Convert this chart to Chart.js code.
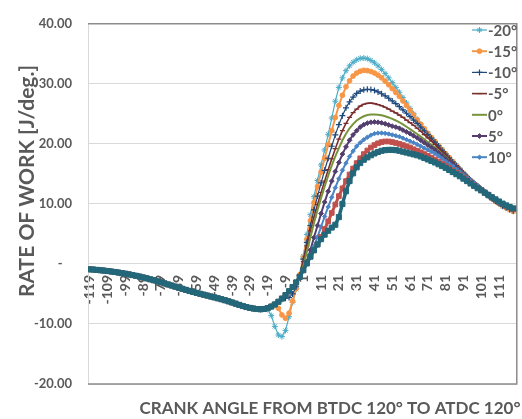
<!DOCTYPE html>
<html>
<head>
<meta charset="utf-8">
<script src="https://cdn.jsdelivr.net/npm/chart.js@4.4.1/dist/chart.umd.min.js"></script>
<style>
  html, body { margin: 0; padding: 0; background: #ffffff; }
  canvas { display: block; }
</style>
</head>
<body>
<canvas id="chart" width="522" height="419" style="width:522px;height:419px"></canvas>
<script>
// Crank angle samples (deg), every 2 degrees
const crankAngle = [
  -119,-117,-115,-113,-111,-109,-107,-105,-103,-101,
  -99,-97,-95,-93,-91,-89,-87,-85,-83,-81,
  -79,-77,-75,-73,-71,-69,-67,-65,-63,-61,
  -59,-57,-55,-53,-51,-49,-47,-45,-43,-41,
  -39,-37,-35,-33,-31,-29,-27,-25,-23,-21,
  -19,-17,-15,-13,-11,-9,-7,-5,-3,-1,
  1,3,5,7,9,11,13,15,17,19,
  21,23,25,27,29,31,33,35,37,39,
  41,43,45,47,49,51,53,55,57,59,
  61,63,65,67,69,71,73,75,77,79,
  81,83,85,87,89,91,93,95,97,99,
  101,103,105,107,109,111,113,115,117,119
];

const xTickLabels = [-119,-109,-99,-89,-79,-69,-59,-49,-39,-29,-19,-9,1,11,21,31,41,51,61,71,81,91,101,111];

// Rate of work before combustion (shared by all timings), -119 .. 19 deg
const motoredWork = [
  -0.90,-0.94,-0.99,-1.05,-1.11,-1.18,-1.26,-1.34,-1.43,-1.53,
  -1.63,-1.74,-1.86,-1.98,-2.11,-2.25,-2.40,-2.56,-2.72,-2.89,
  -3.06,-3.24,-3.42,-3.60,-3.78,-3.96,-4.14,-4.32,-4.49,-4.66,
  -4.82,-4.97,-5.12,-5.27,-5.42,-5.57,-5.72,-5.88,-6.05,-6.23,
  -6.42,-6.62,-6.82,-7.01,-7.18,-7.32,-7.43,-7.51,-7.55,-7.50,
  -7.35,-7.10,-6.75,-6.30,-5.77,-5.18,-4.54,-3.85,-3.08,-2.15,
  -1.05,0.10,1.22,2.28,3.25,4.12,4.88,5.52,6.06,6.52
];

const seriesNames = ['-20°','-15°','-10°','-5°','0°','5°','10°','15°','20°'];
// angle from which each timing leaves the shared curve
const seriesFrom = [-19, -15, -11, -5, -1, 3, 5, 11, 21];

const workM20 = [
  -7.60,-8.60,-10.40,-11.85,-12.10,-11.10,-8.80,-6.40,-4.20,-1.90,
  1.30,4.90,8.20,11.20,13.90,16.50,19.00,21.60,24.30,27.10,
  29.40,31.00,32.20,33.00,33.60,34.00,34.25,34.30,34.20,33.90,
  33.50,33.00,32.40,31.70,31.00,30.20,29.40,28.60,27.70,26.80,
  25.90,25.00,24.10,23.30,22.50,21.70,21.00,20.30,19.60,18.95,
  18.30,17.65,17.00,16.35,15.70,15.10,14.45,13.85,13.30,12.80,
  12.30,11.80,11.30,10.85,10.40,10.00,9.60,9.30,9.00,8.75
];
const workM15 = [
  -6.80,-7.40,-8.50,-9.05,-8.20,-6.20,-4.10,-1.80,
  1.00,4.10,7.20,10.20,12.90,15.30,17.60,19.90,22.20,24.40,
  26.40,28.10,29.50,30.50,31.30,31.80,32.10,32.25,32.20,32.05,
  31.80,31.45,31.00,30.45,29.85,29.20,28.55,27.90,27.15,26.40,
  25.60,24.80,24.00,23.25,22.50,21.75,21.05,20.40,19.70,19.05,
  18.35,17.70,17.05,16.40,15.75,15.10,14.50,13.90,13.35,12.85,
  12.35,11.85,11.35,10.90,10.45,10.05,9.65,9.35,9.05,8.80
];
const workM10 = [
  -5.90,-5.70,-5.60,-5.00,-3.80,-1.90,
  0.80,3.60,6.40,9.00,11.30,13.50,15.60,17.60,19.60,21.50,
  23.20,24.70,26.00,27.00,27.80,28.40,28.80,29.00,29.10,29.05,
  28.90,28.65,28.35,28.00,27.60,27.15,26.70,26.20,25.65,25.10,
  24.55,23.95,23.40,22.80,22.15,21.55,20.95,20.30,19.65,18.95,
  18.30,17.65,17.00,16.40,15.80,15.15,14.55,13.95,13.40,12.90,
  12.40,11.90,11.40,10.95,10.50,10.10,9.70,9.40,9.10,8.85
];
const workM5 = [
  -3.95,-3.30,-1.90,
  0.40,3.00,5.50,7.80,9.90,11.90,13.80,15.70,17.50,19.20,
  20.80,22.20,23.40,24.40,25.20,25.80,26.30,26.60,26.75,26.80,
  26.70,26.55,26.35,26.10,25.80,25.45,25.15,24.80,24.40,23.95,
  23.55,23.10,22.60,22.10,21.55,21.00,20.45,19.90,19.30,18.70,
  18.10,17.50,16.90,16.30,15.70,15.10,14.55,14.00,13.50,13.00,
  12.50,12.00,11.50,11.05,10.60,10.20,9.80,9.45,9.15,8.90
];
const work0 = [
  -2.10,
  -0.40,2.00,4.40,6.80,9.00,11.00,12.90,14.70,16.40,17.90,
  19.30,20.60,21.70,22.60,23.30,23.90,24.30,24.60,24.80,24.90,
  24.90,24.85,24.75,24.60,24.40,24.15,23.90,23.60,23.25,22.85,
  22.45,22.05,21.65,21.20,20.75,20.30,19.85,19.40,18.90,18.35,
  17.85,17.30,16.75,16.20,15.65,15.10,14.55,14.00,13.50,13.00,
  12.50,12.05,11.55,11.10,10.70,10.30,9.90,9.55,9.25,9.00
];
const workP5 = [
  0.40,2.30,4.40,6.40,8.40,10.30,12.10,13.80,15.40,
  16.90,18.30,19.50,20.60,21.50,22.20,22.80,23.20,23.45,23.60,
  23.65,23.60,23.50,23.35,23.15,22.95,22.80,22.60,22.30,22.00,
  21.70,21.35,21.00,20.60,20.20,19.80,19.40,19.00,18.50,18.00,
  17.50,17.05,16.60,16.05,15.55,15.05,14.50,14.00,13.50,13.05,
  12.55,12.10,11.60,11.15,10.75,10.35,9.95,9.60,9.30,9.05
];
const workP10 = [
  1.40,2.90,4.50,6.20,7.90,9.50,11.10,12.70,
  14.20,15.60,16.80,17.90,18.80,19.60,20.20,20.70,21.10,21.45,
  21.70,21.80,21.80,21.75,21.65,21.50,21.35,21.20,20.95,20.70,
  20.45,20.20,19.90,19.60,19.30,19.00,18.70,18.40,18.00,17.55,
  17.10,16.70,16.30,15.80,15.35,14.90,14.40,13.95,13.50,13.05,
  12.55,12.10,11.65,11.20,10.80,10.40,10.00,9.65,9.35,9.10
];
const workP15 = [
  4.50,5.80,7.10,8.50,9.90,
  11.30,12.60,13.80,14.90,15.90,16.80,17.60,18.30,18.90,19.40,
  19.80,20.10,20.30,20.40,20.40,20.30,20.15,20.00,19.80,19.60,
  19.40,19.10,18.85,18.60,18.30,18.00,17.70,17.40,17.05,16.70,
  16.35,16.00,15.60,15.20,14.80,14.40,13.95,13.55,13.10,12.70,
  12.30,11.90,11.50,11.10,10.70,10.30,9.95,9.65,9.40,9.15
];
const workP20 = [
  7.80,10.00,12.10,13.80,15.10,16.10,16.80,17.35,17.75,18.10,
  18.40,18.65,18.85,18.95,19.00,19.00,18.95,18.85,18.70,18.55,
  18.40,18.25,18.10,17.90,17.65,17.40,17.15,16.90,16.60,16.30,
  16.00,15.65,15.30,14.95,14.60,14.20,13.80,13.40,13.00,12.60,
  12.25,11.85,11.50,11.10,10.75,10.40,10.05,9.75,9.50,9.25
];

const seriesWork = [workM20, workM15, workM10, workM5, work0, workP5, workP10, workP15, workP20];

// drawing styles per timing
const styles = [
  { color: '#4BACC6', line: 1.2, point: 'star',    r: 3.0, pw: 1.0 },
  { color: '#F79646', line: 2.0, point: 'circle',  r: 2.4, pw: 1.0 },
  { color: '#1F497D', line: 1.2, point: 'cross',   r: 3.0, pw: 1.2 },
  { color: '#7A2E2C', line: 1.6, point: 'line',    r: 2.5, pw: 1.2 },
  { color: '#77933C', line: 2.0, point: 'circle',  r: 0,   pw: 0   },
  { color: '#533F6E', line: 2.0, point: 'rectRot', r: 2.4, pw: 1.0 },
  { color: '#4A85C5', line: 2.0, point: 'rectRot', r: 2.2, pw: 1.0 },
  { color: '#C0504D', line: 3.0, point: 'rect',    r: 3.3, pw: 1.0 },
  { color: '#23687A', line: 3.5, point: 'rect',    r: 3.6, pw: 1.0 }
];

function buildPoints(fromAngle, tail) {
  const start = crankAngle.indexOf(fromAngle);
  const pts = [];
  for (let i = 0; i < start; i++) pts.push({ x: crankAngle[i], y: motoredWork[i] });
  tail.forEach((v, j) => pts.push({ x: crankAngle[start + j], y: v }));
  return pts;
}

const datasets = seriesNames.map((name, i) => ({
  label: name,
  data: buildPoints(seriesFrom[i], seriesWork[i]),
  borderColor: styles[i].color,
  backgroundColor: styles[i].color,
  borderWidth: styles[i].line,
  pointStyle: styles[i].point,
  pointRadius: styles[i].r,
  pointBorderWidth: styles[i].pw,
  pointBorderColor: styles[i].color,
  pointBackgroundColor: styles[i].color,
  tension: 0,
  order: seriesNames.length - 1 - i
}));

const FONT = 'Lato, "Open Sans", sans-serif';
const TEXT = '#595959';
Chart.defaults.font.family = FONT;

const decorations = {
  id: 'decorations',
  beforeDatasetsDraw(chart) {
    const { ctx, chartArea: a } = chart;
    ctx.save();
    ctx.strokeStyle = '#8c8c8c';
    ctx.lineWidth = 1.5;
    ctx.beginPath();
    ctx.moveTo(a.left, a.top);
    ctx.lineTo(a.right, a.top);
    ctx.lineTo(a.right, a.bottom);
    ctx.lineTo(a.left, a.bottom);
    ctx.stroke();
    ctx.restore();
  },
  afterDraw(chart) {
    const { ctx } = chart;
    ctx.save();
    ctx.fillStyle = TEXT;
    // axis titles
    ctx.textAlign = 'center';
    ctx.textBaseline = 'middle';
    ctx.font = 'bold 17px ' + FONT;
    ctx.fillText('CRANK ANGLE FROM BTDC 120° TO ATDC 120°', 330, 409);
    ctx.save();
    ctx.translate(27, 181);
    ctx.rotate(-Math.PI / 2);
    ctx.font = 'bold 21px ' + FONT;
    ctx.fillText('RATE OF WORK [J/deg.]', 0, 0);
    ctx.restore();

    // legend box (rows that fit in it)
    const rows = 7;
    ctx.font = 'bold 15px ' + FONT;
    ctx.textAlign = 'left';
    for (let i = 0; i < rows; i++) {
      const ds = chart.data.datasets[i];
      const y = 30 + i * 21.2;
      ctx.strokeStyle = ds.borderColor;
      ctx.lineWidth = Math.min(ds.borderWidth, 2);
      ctx.beginPath();
      ctx.moveTo(472, y);
      ctx.lineTo(487, y);
      ctx.stroke();
      if (ds.pointRadius > 0 && Chart.helpers && Chart.helpers.drawPoint) {
        ctx.fillStyle = ds.pointBackgroundColor;
        ctx.strokeStyle = ds.pointBorderColor;
        ctx.lineWidth = ds.pointBorderWidth;
        Chart.helpers.drawPoint(ctx, { pointStyle: ds.pointStyle, radius: ds.pointRadius, borderWidth: ds.pointBorderWidth, rotation: 0 }, 479.5, y);
      }
      ctx.fillStyle = TEXT;
      ctx.fillText(ds.label, 488, y + 1);
    }
    ctx.restore();
  }
};

new Chart(document.getElementById('chart'), {
  type: 'line',
  data: { datasets },
  options: {
    responsive: false,
    animation: false,
    devicePixelRatio: 1,
    layout: { padding: { left: 0, top: 16, right: 4, bottom: 35 } },
    plugins: { legend: { display: false }, tooltip: { enabled: false }, title: { display: false } },
    elements: { line: { borderCapStyle: 'round' } },
    scales: {
      x: {
        type: 'linear',
        position: { y: 0 },
        min: -120,
        max: 121,
        grid: { display: false },
        border: { display: true, color: '#d9d9d9' },
        afterBuildTicks(scale) { scale.ticks = xTickLabels.map(v => ({ value: v })); },
        ticks: {
          autoSkip: false,
          maxRotation: 90,
          minRotation: 90,
          padding: 3,
          color: TEXT,
          font: { size: 14, weight: 'bold' },
          callback: v => String(v)
        }
      },
      y: {
        min: -20,
        max: 40,
        afterFit(scale) { scale.width = 88; },
        grid: { color: '#d9d9d9', drawTicks: false },
        border: { display: true, color: '#d9d9d9' },
        ticks: {
          stepSize: 10,
          padding: 16,
          color: TEXT,
          font: { size: 13, weight: 'bold' },
          callback: v => (v === 0 ? '-   ' : v.toFixed(2))
        }
      }
    }
  },
  plugins: [decorations]
});
</script>
</body>
</html>
